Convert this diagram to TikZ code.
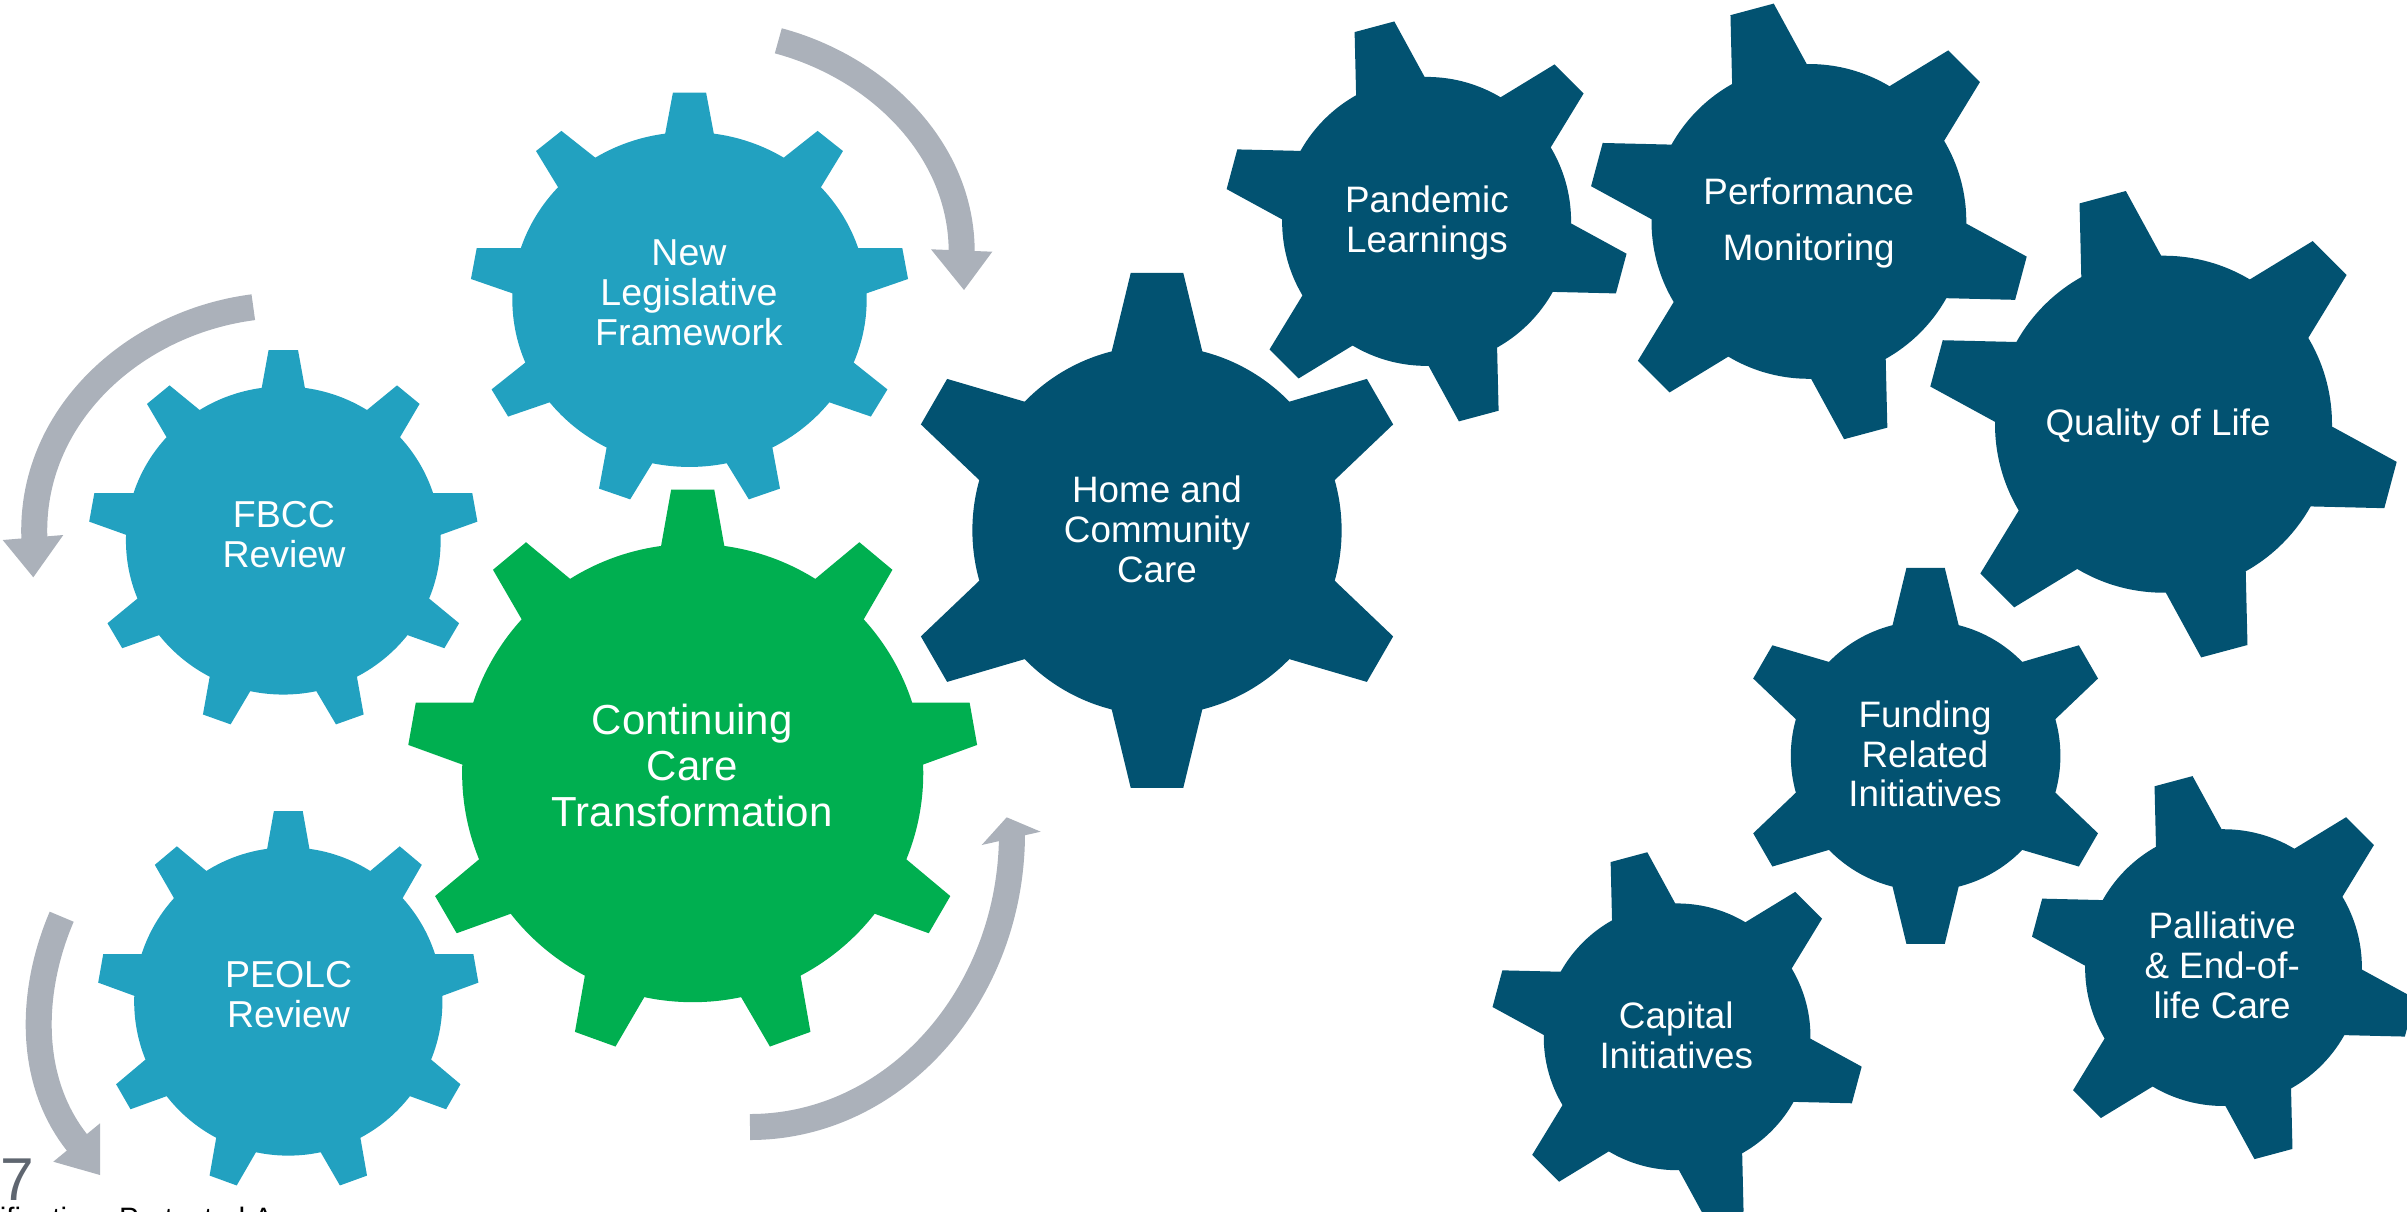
\documentclass[tikz,border=0pt]{standalone}
\usepackage{fontspec}
\setmainfont{Liberation Sans}
\definecolor{lblue}{HTML}{22A1C0}
\definecolor{dblue}{HTML}{025271}
\definecolor{ggreen}{HTML}{00AF50}
\definecolor{agray}{HTML}{ABB1BA}
\definecolor{numgray}{HTML}{5F6670}
\tikzset{
  gearlabel/.style={text=white, align=center, inner sep=0pt},
  lbtext/.style={gearlabel, font=\fontsize{37.5}{40}\selectfont},
  dbtext/.style={gearlabel, font=\fontsize{36.8}{39.8}\selectfont},
  grtext/.style={gearlabel, font=\fontsize{42}{46.3}\selectfont},
  rotarrow/.style={draw=agray, line width=26pt, line cap=butt},
  rothead/.style={fill=agray},
}
\newcommand{\gs}{\rule[-0.25em]{0pt}{1em}}
% nine-tooth gear: cx, cy, R (horizontal), colour, vertical squash
\newcommand{\gearnine}[5]{%
  \begin{scope}[shift={(#1,#2)}, yscale=#5]
    \fill[#4] (0,0) circle[radius=0.809*#3];
    \foreach \a in {90,130,...,410}{%
      \fill[#4,rotate=\a] (0.70*#3,-0.111*#3) -- (0.8014*#3,-0.111*#3) -- (#3,-0.0757*#3)
        -- (#3,0.0757*#3) -- (0.8014*#3,0.111*#3) -- (0.70*#3,0.111*#3) -- cycle;
    }
  \end{scope}}
% six-tooth gear: cx, cy, R, colour, start angle
\newcommand{\gearsix}[5]{%
  \begin{scope}[shift={(#1,#2)}]
    \fill[#4] (0,0) circle[radius=0.717*#3];
    \foreach \k in {0,...,5}{%
      \fill[#4,rotate={#5+60*\k}] (0.60*#3,-0.176*#3) -- (0.6948*#3,-0.176*#3) -- (#3,-0.102*#3)
        -- (#3,0.102*#3) -- (0.6948*#3,0.176*#3) -- (0.60*#3,0.176*#3) -- cycle;
    }
  \end{scope}}
\begin{document}
\begin{tikzpicture}[x=1pt,y=-1pt]
\useasboundingbox (0,0) rectangle (2407,1211);
\clip (0,0) rectangle (2407,1211);

% light blue and green gears
\gearnine{689.5}{299.5}{219}{lblue}{0.945}
\gearnine{283.3}{540.5}{194.5}{lblue}{0.979}
\gearnine{288.3}{1001.5}{190.5}{lblue}{1.0}
\gearnine{692.7}{773}{285}{ggreen}{0.994}

% dark gears
\gearsix{1157}{530.4}{257.5}{dblue}{90}
\gearsix{1426.6}{221.4}{201.5}{dblue}{105}
\gearsix{1808.9}{221.4}{219.5}{dblue}{105}
\gearsix{2163.5}{424.2}{235}{dblue}{105}
\gearsix{1925.6}{755.9}{188}{dblue}{90}
\gearsix{1677.1}{1036.8}{186}{dblue}{105}
\gearsix{2223.5}{967.6}{193}{dblue}{105}

% labels
\node[lbtext] (nlf) at (689,295.9) {\gs New\\\gs Legislative\\\gs Framework};
\node[lbtext] (fbcc) at (284,538.2) {\gs FBCC\\\gs Review};
\node[lbtext] (peolc) at (288.6,998.6) {\gs PEOLC\\\gs Review};
\node[grtext] (cct) at (692.2,769.8) {\gs Continuing\\\gs Care\\\gs Transformation};
\node[dbtext] (hcc) at (1157,533.2) {\gs Home and\\\gs Community\\\gs Care};
\node[dbtext] (pan) at (1426.9,223) {\gs Pandemic\\\gs Learnings};
\node[dbtext] (perf) at (1808.8,222.9) {\gs Performance\\[16.2pt]\gs Monitoring};
\node[dbtext] (qol) at (2158,425.9) {\gs Quality of Life};
\node[dbtext] (fri) at (1925,757.8) {\gs Funding\\\gs Related\\\gs Initiatives};
\node[dbtext] (cap) at (1676.2,1039) {\gs Capital\\\gs Initiatives};
\node[dbtext] (pal) at (2222.2,969.4) {\gs Palliative\\\gs \& End-of-\\\gs life Care};

% rotation arrows
\coordinate (aS) at (778.3,40.8);  \coordinate (aE) at (961.7,252);
\draw[rotarrow] (aS) .. controls (877.8,67.5) and (961.7,149) .. (aE);
\fill[rothead] (931,249.3) -- (964,290) -- (992.3,251.7) -- cycle;

\coordinate (bS) at (253.3,307.2); \coordinate (bE) at (34.4,539);
\draw[rotarrow] (bS) .. controls (132.6,322.7) and (29.4,417.3) .. (bE);
\fill[rothead] (2.7,540) -- (33.3,577.3) -- (63.3,535) -- cycle;

\coordinate (cS) at (61.7,916.7);  \coordinate (cE) at (78.9,1144.8);
\draw[rotarrow] (cS) .. controls (29.7,991.4) and (27.3,1082) .. (cE);
\fill[rothead] (100,1123.3) -- (53.3,1161.7) -- (100,1175) -- cycle;

\coordinate (dS) at (750,1127);    \coordinate (dE) at (1012,833);
\draw[rotarrow] (dS) .. controls (894.7,1127) and (1012,995) .. (dE);
\fill[rothead] (981.7,845) -- (1006.7,817.3) -- (1040.7,831.7) -- cycle;

% page number and footer
\node[anchor=base west, inner sep=0pt, text=numgray, font=\fontsize{60.5}{66}\selectfont] (pagenum) at (0.8,1200) {7};
\node[anchor=base west, inner sep=0pt, font=\fontsize{29.5}{32}\selectfont] (cls) at (-74,1228) {Classification: Protected A};
\end{tikzpicture}
\end{document}
